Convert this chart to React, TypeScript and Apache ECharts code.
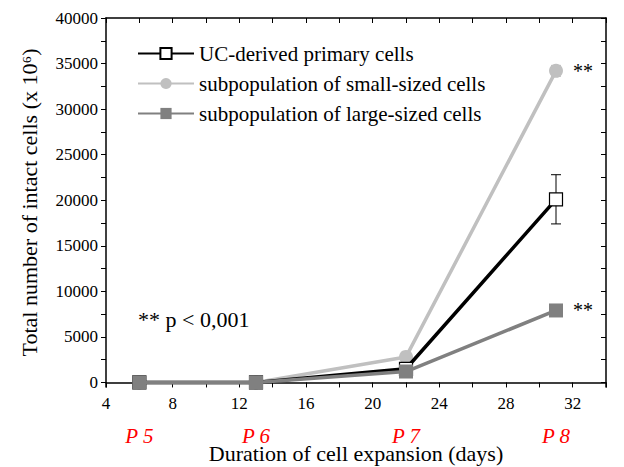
import React, { useEffect, useRef } from 'react';
import * as echarts from 'echarts';

const days = [6, 13, 22, 31];
const primary = [0, 0, 1500, 20100];
const primaryErr = [0, 0, 300, 2700];
const small = [0, 0, 2800, 34200];
const smallErr = [0, 0, 200, 600];
const large = [0, 0, 1200, 7900];
const largeErr = [0, 0, 200, 300];
const passages = ['P 5', 'P 6', 'P 7', 'P 8'];
const yTicks = [0, 5000, 10000, 15000, 20000, 25000, 30000, 35000, 40000];
const yMinor = [2500, 7500, 12500, 17500, 22500, 27500, 32500, 37500];
const xTicks = [4, 8, 12, 16, 20, 24, 28, 32];
const xMinor = [6, 10, 14, 18, 22, 26, 30, 34];

const FONT = 'Liberation Serif';

const App: React.FC = () => {
    const ref = useRef<HTMLDivElement | null>(null);

    useEffect(() => {
        if (!ref.current) return;
        const chart = echarts.init(ref.current, null, { renderer: 'svg' });

        const errSeries = (vals: number[], errs: number[], color: string) => ({
            type: 'custom',
            z: 1,
            data: days.map((d, i) => [d, vals[i] - errs[i], vals[i] + errs[i]]),
            renderItem: (_p: any, api: any) => {
                const lo = api.coord([api.value(0), api.value(1)]);
                const hi = api.coord([api.value(0), api.value(2)]);
                const w = 5;
                return {
                    type: 'group',
                    children: [
                        { type: 'line', shape: { x1: lo[0], y1: lo[1], x2: hi[0], y2: hi[1] }, style: { stroke: color, lineWidth: 1 } },
                        { type: 'line', shape: { x1: lo[0] - w, y1: lo[1], x2: lo[0] + w, y2: lo[1] }, style: { stroke: color, lineWidth: 1 } },
                        { type: 'line', shape: { x1: hi[0] - w, y1: hi[1], x2: hi[0] + w, y2: hi[1] }, style: { stroke: color, lineWidth: 1 } },
                    ],
                };
            },
        });

        const starLabel = {
            show: true,
            position: 'right',
            distance: 10,
            fontFamily: FONT,
            fontSize: 20,
            color: '#000',
            formatter: (p: any) => (p.dataIndex === 3 ? '**' : ''),
        };

        const baseAxis = {
            axisLine: { lineStyle: { color: '#000', width: 1.5 } },
            splitLine: { show: false },
        };

        const option = {
            animation: false,
            textStyle: { fontFamily: FONT },
            grid: { left: 98, right: 10, top: 10, bottom: 80, outerBoundsMode: 'none' },
            legend: {
                left: 124,
                top: 30,
                orient: 'vertical',
                itemWidth: 56,
                itemHeight: 14,
                itemGap: 9,
                textStyle: { fontFamily: FONT, fontSize: 21, color: '#000' },
                data: ['UC-derived primary cells', 'subpopulation of small-sized cells', 'subpopulation of large-sized cells'],
            },
            xAxis: [
                {
                    ...baseAxis,
                    type: 'value', min: 4, max: 34,
                    axisTick: { customValues: xTicks.concat(xMinor), length: 5, lineStyle: { color: '#000' } },
                    axisLabel: { customValues: xTicks, fontFamily: FONT, fontSize: 17, color: '#000', margin: 8 },
                    name: 'Duration of cell expansion (days)',
                    nameLocation: 'middle', nameGap: 55,
                    nameTextStyle: { fontFamily: FONT, fontSize: 22, color: '#000' },
                },
                {
                    type: 'value', min: 4, max: 34, position: 'bottom', offset: 30,
                    axisLine: { show: false }, axisTick: { show: false }, splitLine: { show: false },
                    axisLabel: {
                        customValues: days,
                        formatter: (v: number) => passages[days.indexOf(v)] ?? '',
                        fontFamily: FONT, fontSize: 21, fontStyle: 'italic', color: '#ff0000',
                    },
                },
                {
                    ...baseAxis,
                    type: 'value', min: 4, max: 34, position: 'top',
                    axisTick: { inside: true, customValues: xTicks.concat(xMinor), length: 5, lineStyle: { color: '#000' } },
                    axisLabel: { show: false },
                },
            ],
            yAxis: [
                {
                    ...baseAxis,
                    type: 'value', min: -500, max: 40000,
                    axisTick: { customValues: yTicks.concat(yMinor), length: 5, lineStyle: { color: '#000' } },
                    axisLabel: {
                        customValues: yTicks, formatter: (v: number) => String(v),
                        fontFamily: FONT, fontSize: 17, color: '#000', margin: 8,
                    },
                    name: 'Total number of intact cells (x 10⁶)',
                    nameLocation: 'middle', nameGap: 66,
                    nameTextStyle: { fontFamily: FONT, fontSize: 22, color: '#000' },
                },
                {
                    ...baseAxis,
                    type: 'value', min: -500, max: 40000, position: 'right',
                    axisTick: { inside: true, customValues: yTicks.concat(yMinor), length: 5, lineStyle: { color: '#000' } },
                    axisLabel: { show: false },
                },
            ],
            graphic: [
                { type: 'text', left: 130, top: 300, style: { text: '** p < 0,001', fontFamily: FONT, fontSize: 22, fill: '#000' } },
            ],
            series: [
                errSeries(primary, primaryErr, '#000'),
                errSeries(small, smallErr, '#bbbbbb'),
                errSeries(large, largeErr, '#777777'),
                {
                    name: 'UC-derived primary cells', type: 'line', z: 3,
                    data: days.map((d, i) => [d, primary[i]]),
                    symbol: 'rect', symbolSize: 13,
                    lineStyle: { color: '#000', width: 3.5 },
                    itemStyle: { color: '#fff', borderColor: '#000', borderWidth: 1.2 },
                },
                {
                    name: 'subpopulation of small-sized cells', type: 'line', z: 2,
                    data: days.map((d, i) => [d, small[i]]),
                    symbol: 'circle', symbolSize: 14,
                    lineStyle: { color: '#c0c0c0', width: 3.5 },
                    itemStyle: { color: '#c0c0c0' },
                    label: starLabel,
                },
                {
                    name: 'subpopulation of large-sized cells', type: 'line', z: 4,
                    data: days.map((d, i) => [d, large[i]]),
                    symbol: 'rect', symbolSize: 14,
                    lineStyle: { color: '#808080', width: 3.5 },
                    itemStyle: { color: '#808080' },
                    label: starLabel,
                },
            ],
        };

        chart.setOption(option);
        return () => chart.dispose();
    }, []);

    return <div ref={ref} style={{ width: 608, height: 459 }} />;
};

export default App;
